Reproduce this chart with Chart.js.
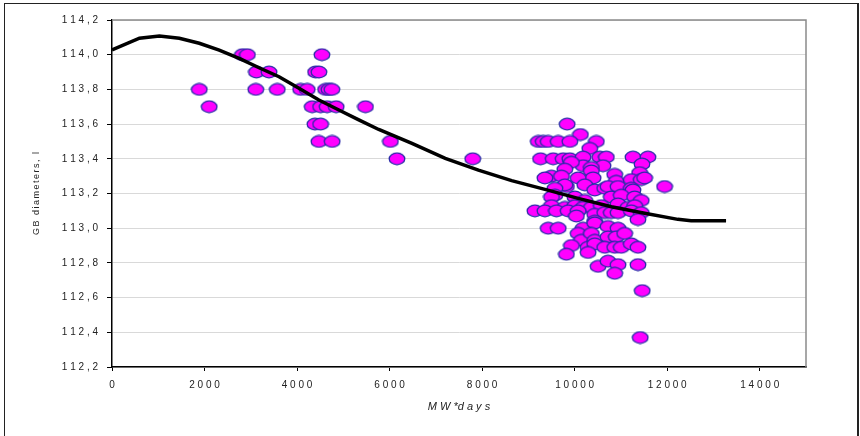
<!DOCTYPE html>
<html>
<head>
<meta charset="utf-8">
<script src="https://cdn.jsdelivr.net/npm/chart.js@4/dist/chart.umd.min.js"></script>
<style>
  html, body { margin: 0; padding: 0; background: #fff; overflow: hidden; }
  #frame { position: absolute; left: 4px; top: 3px; width: 852px; height: 445px; border: 1.5px solid #222; border-right-width: 2px; }
  #wrap { position: absolute; left: 0; top: 0; width: 860px; height: 436px; }
</style>
</head>
<body>
<div id="frame"></div>
<div id="wrap"><canvas id="chart" width="860" height="436"></canvas></div>
<script>
// measured points (MW*days, GB diameter)
const scatterX = [
  1886, 2101, 2819, 2927, 3121, 3394, 3108, 3573, 4078, 4220,
  4537, 4401, 4472, 4616, 4688, 4752, 4328, 4509, 4651, 4845,
  4386, 4509, 4472, 4759, 5478, 6017, 6159, 7797,
  9838, 10124, 9213, 9320, 9428, 9644, 9896, 10469, 10327,
  9262, 9536, 9751, 9896, 10182, 10542, 10685, 11260, 11583, 11454,
  10182, 10613, 9930, 10361, 9788, 10361, 10398, 9499, 9715, 9357,
  10075, 10866, 10900, 11404, 11223, 11439, 11512, 11943, 9821, 10219,
  10434, 10650, 10721, 10937, 11223, 11260, 9788, 9573, 9573, 10004,
  10219, 10792, 11008, 11297, 11439, 9499, 9499, 9788, 10004, 10182,
  10361, 10577, 10937, 11152, 11297, 9141, 9357, 9607, 9859, 10075,
  10434, 10650, 10792, 10937, 11223, 11439, 11368, 10038, 10434, 9428,
  9644, 10182, 10434, 10721, 10937, 10075, 10146, 10361, 10434, 10721,
  10900, 11081, 9930, 10290, 10434, 10650, 10866, 11008, 11223, 11368,
  9821, 10290, 10506, 10721, 10937, 10866, 11368, 11460, 11417
];
const scatterY = [
  113.80, 113.70, 114.00, 114.00, 113.90, 113.90, 113.80, 113.80, 113.80, 113.80,
  114.00, 113.90, 113.90, 113.80, 113.80, 113.80, 113.70, 113.70, 113.70, 113.70,
  113.60, 113.60, 113.50, 113.50, 113.70, 113.50, 113.40, 113.40,
  113.60, 113.54, 113.50, 113.50, 113.50, 113.50, 113.50, 113.50, 113.46,
  113.40, 113.40, 113.40, 113.40, 113.41, 113.41, 113.41, 113.41, 113.41, 113.37,
  113.36, 113.36, 113.38, 113.35, 113.34, 113.33, 113.29, 113.30, 113.30, 113.29,
  113.29, 113.31, 113.27, 113.32, 113.28, 113.28, 113.29, 113.24, 113.24, 113.25,
  113.22, 113.23, 113.24, 113.24, 113.23, 113.22, 113.25, 113.23, 113.19, 113.18,
  113.16, 113.18, 113.19, 113.18, 113.16, 113.18, 113.13, 113.12, 113.13, 113.12,
  113.12, 113.13, 113.14, 113.12, 113.13, 113.10, 113.10, 113.10, 113.10, 113.10,
  113.08, 113.09, 113.09, 113.09, 113.10, 113.09, 113.05, 113.07, 113.04, 113.00,
  113.00, 113.00, 113.03, 113.01, 113.00, 112.97, 112.93, 112.97, 112.93, 112.95,
  112.95, 112.97, 112.90, 112.89, 112.91, 112.89, 112.89, 112.89, 112.91, 112.89,
  112.85, 112.86, 112.78, 112.81, 112.79, 112.74, 112.79, 112.64, 112.37
];

// trend curve
const curveX = [0, 593, 1024, 1455, 1886, 2317, 2748, 3179, 3610, 4041, 4472, 4903,
  5334, 5765, 6483, 7203, 7920, 8638, 9358, 10075, 10793, 11513, 12231, 12517, 13272];
const curveY = [114.027, 114.095, 114.108, 114.095, 114.066, 114.027, 113.979, 113.925,
  113.873, 113.806, 113.739, 113.681, 113.624, 113.569, 113.489, 113.403, 113.335,
  113.274, 113.224, 113.172, 113.124, 113.086, 113.051, 113.043, 113.043];

const xTicks = [0, 2000, 4000, 6000, 8000, 10000, 12000, 14000];
const xMin = 0, xMax = 15000;
const yMin = 112.2, yMax = 114.2, yStep = 0.2;
const xTitle = "M W *d a y s";
const yTitle = "GB diameters, l";

// spaced-out digits like the original
function spaced(s) { return String(s).split("").join(" "); }

// ellipse marker
function makeMarker() {
    let c = document.createElement("canvas");
    c.width = 18; c.height = 14;
    let g = c.getContext("2d");
    g.beginPath();
    g.ellipse(9, 7, 7.8, 5.8, 0, 0, Math.PI * 2);
    g.fillStyle = "#FF00FF";
    g.fill();
    g.lineWidth = 1.3;
    g.strokeStyle = "#2a2aa8";
    g.stroke();
    return c;
}

// gray top/right border of plot area
const plotBorder = {
    id: "plotBorder",
    beforeDatasetsDraw(chart) {
        let a = chart.chartArea, ctx = chart.ctx;
        ctx.save();
        ctx.strokeStyle = "#8a8a8a";
        ctx.lineWidth = 1.5;
        ctx.beginPath();
        ctx.moveTo(a.left, a.top);
        ctx.lineTo(a.right, a.top);
        ctx.lineTo(a.right, a.bottom);
        ctx.stroke();
        ctx.restore();
    }
};

const marker = makeMarker();

new Chart(document.getElementById("chart").getContext("2d"), {
    type: "scatter",
    data: {
        datasets: [
            {
                label: "trend",
                data: curveX.map((x, i) => ({ x: x, y: curveY[i] })),
                showLine: true,
                borderColor: "#000",
                borderWidth: 3.5,
                pointRadius: 0,
                tension: 0,
                order: 0
            },
            {
                label: "GB",
                data: scatterX.map((x, i) => ({ x: x, y: scatterY[i] })),
                pointStyle: marker,
                pointRadius: 8,
                order: 1
            }
        ]
    },
    options: {
        responsive: false,
        animation: false,
        layout: { padding: { top: 20, right: 54, bottom: 0, left: 0 } },
        plugins: {
            legend: { display: false },
            tooltip: { enabled: false }
        },
        scales: {
            x: {
                type: "linear",
                min: xMin, max: xMax,
                afterBuildTicks: s => { s.ticks = xTicks.map(v => ({ value: v })); },
                afterTickToLabelConversion: s => {
                    s.ticks.forEach(t => { t.label = spaced(t.value); });
                },
                afterFit: s => { s.height = 69; },
                border: { color: "#000", width: 1.5 },
                grid: { drawOnChartArea: false, tickLength: 4, tickColor: "#000" },
                ticks: {
                    padding: 8,
                    color: "#222",
                    font: { family: "'Liberation Sans', Arial, sans-serif", size: 10 },
                    maxRotation: 0,
                    autoSkip: false
                },
                title: {
                    display: true,
                    text: xTitle,
                    color: "#222",
                    font: { family: "'Liberation Sans', Arial, sans-serif", size: 11, style: "italic" },
                    padding: { top: 0, bottom: 22 }
                }
            },
            y: {
                min: yMin, max: yMax,
                afterFit: s => { s.width = 112; },
                border: { color: "#000", width: 1.5 },
                grid: { color: "#d9d9d9", lineWidth: 1, tickLength: 5, tickColor: "#000" },
                ticks: {
                    stepSize: yStep,
                    padding: 9,
                    color: "#222",
                    font: { family: "'Liberation Sans', Arial, sans-serif", size: 10 },
                    callback: v => spaced(v.toFixed(1).replace(".", ","))
                },
                title: {
                    display: true,
                    text: yTitle.split("").join("\u2006"),
                    color: "#222",
                    font: { family: "'Liberation Sans', Arial, sans-serif", size: 9 },
                    padding: { top: 31, bottom: 0 }
                }
            }
        }
    },
    plugins: [plotBorder]
});
</script>
</body>
</html>
